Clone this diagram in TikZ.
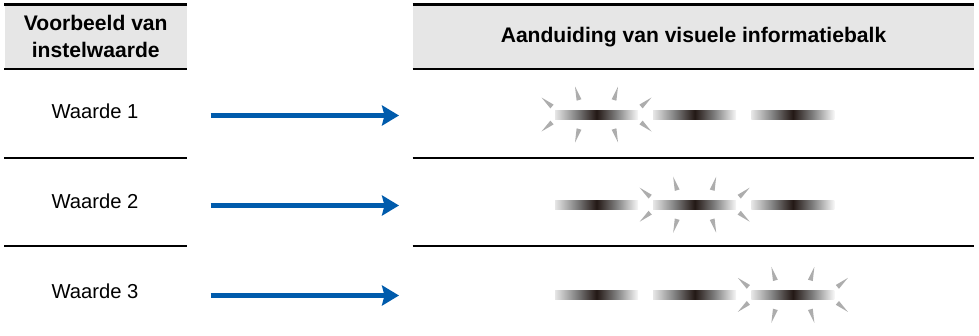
\documentclass[tikz,border=0pt]{standalone}
\usepackage{fontspec}
\setmainfont{Liberation Sans}
\usepackage{xcolor}
\usepackage{tikz}
\usetikzlibrary{arrows.meta, positioning}

\definecolor{headgray}{HTML}{E6E6E6}
\definecolor{arrowblue}{HTML}{005BAC}
\definecolor{barblack}{HTML}{231815}
\definecolor{spikegray}{HTML}{ADADAD}
\pgfdeclarehorizontalshading{barshade}{100bp}{color(0bp)=(white); color(25bp)=(black!10); color(38bp)=(black!50); color(50bp)=(barblack); color(62bp)=(black!50); color(75bp)=(black!3); color(100bp)=(white)}

\begin{document}
\begin{tikzpicture}[
    x=0.02cm, y=-0.02cm,
    every node/.style={font=\fontsize{11.5}{15}\selectfont},
    headbox/.style={rectangle, fill=headgray, minimum height=1.276cm, inner sep=0pt, align=center, font=\fontsize{12}{15}\selectfont\bfseries},
    headrule/.style={line width=1.5pt},
    rule/.style={line width=1.1pt},
    bar/.style={rectangle, minimum width=1.66cm, minimum height=0.18cm, inner sep=0pt, shade, shading=barshade},
    arrow/.style={-{Stealth[length=0.34cm, width=0.4cm, inset=0.05cm]}, line width=3.2pt, draw=arrowblue},
    spike/.style={fill=spikegray},
    glow/.pic={
        \fill[spike] (-15.1,-15.2) -- (-21.5,-28) -- (-19.9,-13.8) -- cycle;
        \fill[spike] (15.1,-15.2) -- (21.5,-28) -- (19.9,-13.8) -- cycle;
        \fill[spike] (-15.1,15.2) -- (-21.5,28) -- (-19.9,13.8) -- cycle;
        \fill[spike] (15.1,15.2) -- (21.5,28) -- (19.9,13.8) -- cycle;
        \fill[spike] (-42.9,-9.9) -- (-55,-17) -- (-46.1,-6.1) -- cycle;
        \fill[spike] (42.9,-9.9) -- (55,-17) -- (46.1,-6.1) -- cycle;
        \fill[spike] (-42.9,9.9) -- (-55,17) -- (-46.1,6.1) -- cycle;
        \fill[spike] (42.9,9.9) -- (55,17) -- (46.1,6.1) -- cycle;
    }
]
\useasboundingbox (0,0) rectangle (979,335);

% Header
\node[headbox, minimum width=3.65cm] (hl) at (95.75,36.6) {Voorbeeld van\\instelwaarde};
\node[headbox, minimum width=11.22cm] (hr) at (693.5,36.6) {Aanduiding van visuele informatiebalk};
\draw[headrule] (hl.north west) -- (hl.north east);
\draw[headrule] (hl.south west) -- (hl.south east);
\draw[headrule] (hr.north west) -- (hr.north east);
\draw[headrule] (hr.south west) -- (hr.south east);

% Row separators
\coordinate (sep1) at (0,157.7);
\coordinate (sep2) at (0,246.3);
\draw[rule] (hl.west |- sep1) -- (hl.east |- sep1);
\draw[rule] (hr.west |- sep1) -- (hr.east |- sep1);
\draw[rule] (hl.west |- sep2) -- (hl.east |- sep2);
\draw[rule] (hr.west |- sep2) -- (hr.east |- sep2);

% Values
\node[anchor=base] (w1) at (95,118) {Waarde 1};
\node[anchor=base] (w2) at (95,208) {Waarde 2};
\node[anchor=base] (w3) at (95,298) {Waarde 3};

% Bars
\node[bar] (b11) at (596.5,114.5) {};
\node[bar, right=0.29cm of b11] (b12) {};
\node[bar, right=0.29cm of b12] (b13) {};
\node[bar, below=1.61cm of b11] (b21) {};
\node[bar, right=0.29cm of b21] (b22) {};
\node[bar, right=0.29cm of b22] (b23) {};
\node[bar, below=1.61cm of b21] (b31) {};
\node[bar, right=0.29cm of b31] (b32) {};
\node[bar, right=0.29cm of b32] (b33) {};

% Blinking bar
\pic at (b11.center) {glow};
\pic at (b22.center) {glow};
\pic at (b33.center) {glow};

% Arrows
\coordinate (a1s) at (210.7,115.5);
\coordinate (a1e) at (399,115.5);
\coordinate (a2s) at (210.7,205.5);
\coordinate (a2e) at (399,205.5);
\coordinate (a3s) at (210.7,295.5);
\coordinate (a3e) at (399,295.5);
\draw[arrow] (a1s) -- (a1e);
\draw[arrow] (a2s) -- (a2e);
\draw[arrow] (a3s) -- (a3e);

\end{tikzpicture}
\end{document}
